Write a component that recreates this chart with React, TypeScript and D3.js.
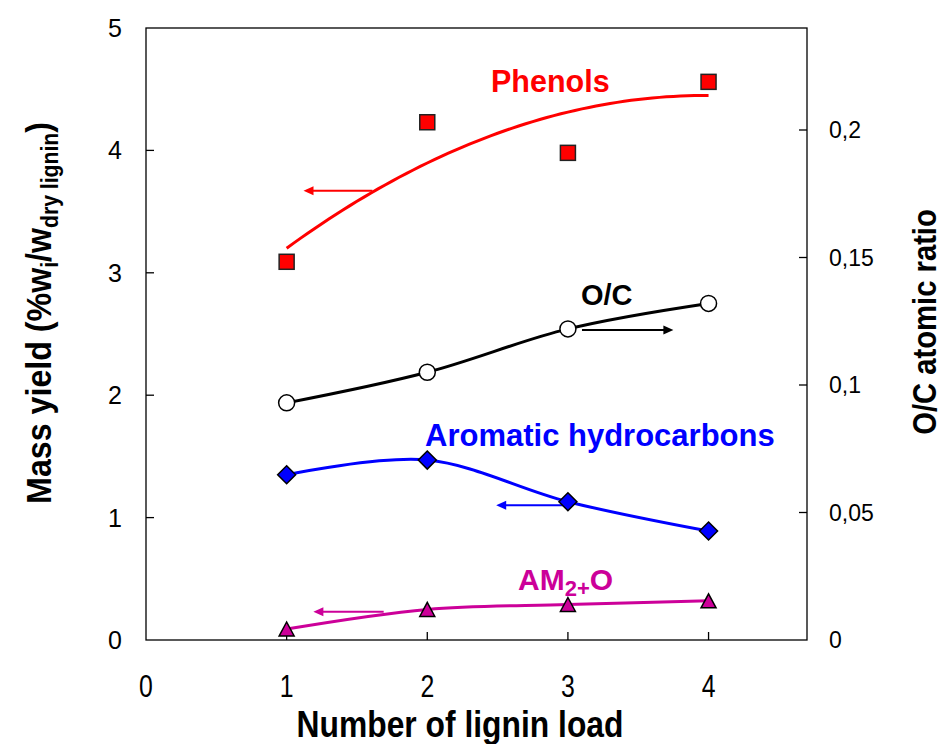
import React from 'react';
import * as d3 from 'd3';

const loads = [1, 2, 3, 4];
const phenols = [3.09, 4.23, 3.98, 4.56];
const aromatics = [1.35, 1.47, 1.13, 0.89];
const am2o = [0.09, 0.25, 0.29, 0.32];
const ocRatio = [0.093, 0.105, 0.122, 0.132];

const xTicks = [0, 1, 2, 3, 4];
const yLeftTicks = [0, 1, 2, 3, 4, 5];
const yRightTicks = [0, 0.05, 0.1, 0.15, 0.2];
const yRightLabels = ['0', '0,05', '0,1', '0,15', '0,2'];

const RED = '#FF0000';
const BLUE = '#0000FF';
const MAGENTA = '#CC0099';

const SANS = "'Liberation Sans', Arial, Helvetica, sans-serif";

const W = 943;
const H = 744;

// least-squares quadratic fit (Excel polynomial trendline, order 2)
function quadFit(xs: number[], ys: number[]) {
  const s = (f: (x: number, y: number) => number) => xs.reduce((acc, x, i) => acc + f(x, ys[i]), 0);
  const n = xs.length;
  const sx = s((x) => x), sx2 = s((x) => x * x), sx3 = s((x) => x ** 3), sx4 = s((x) => x ** 4);
  const sy = s((_, y) => y), sxy = s((x, y) => x * y), sx2y = s((x, y) => x * x * y);
  const A = [
    [n, sx, sx2, sy],
    [sx, sx2, sx3, sxy],
    [sx2, sx3, sx4, sx2y],
  ];
  for (let i = 0; i < 3; i++) {
    for (let j = i + 1; j < 3; j++) {
      const f = A[j][i] / A[i][i];
      for (let k = i; k < 4; k++) A[j][k] -= f * A[i][k];
    }
  }
  const c = [0, 0, 0];
  for (let i = 2; i >= 0; i--) {
    let v = A[i][3];
    for (let k = i + 1; k < 3; k++) v -= A[i][k] * c[k];
    c[i] = v / A[i][i];
  }
  return (x: number) => c[0] + c[1] * x + c[2] * x * x;
}

export default function App() {
  const x = d3.scaleLinear().domain([0, 4.7]).range([146, 807]);
  const yL = d3.scaleLinear().domain([0, 5]).range([640, 28]);
  const yR = d3.scaleLinear().domain([0, 0.24]).range([640, 28]);

  const smooth = (ys: number[], sc: d3.ScaleLinear<number, number>) =>
    d3.line<number>().x((_, i) => x(loads[i])).y((v) => sc(v)).curve(d3.curveCardinal.tension(0))(ys) || '';

  const fit = quadFit(loads, phenols);
  const fitPts = d3.range(0, 61).map((i) => 1 + (3 * i) / 60);
  const fitPath = d3.line<number>().x((v) => x(v)).y((v) => yL(fit(v)))(fitPts) || '';

  const arrow = (x1: number, x2: number, yv: number, sc: d3.ScaleLinear<number, number>, color: string, key: string) => {
    const px1 = x(x1), px2 = x(x2), py = sc(yv);
    const dir = Math.sign(px2 - px1);
    const len = 10, hw = 4.5;
    return (
      <g key={key}>
        <line x1={px1} y1={py} x2={px2 - dir * len * 0.6} y2={py} stroke={color} strokeWidth={2} />
        <path d={`M${px2},${py} L${px2 - dir * len},${py - hw} L${px2 - dir * len},${py + hw} Z`} fill={color} />
      </g>
    );
  };

  return (
    <svg width={W} height={H} style={{ position: 'absolute', left: 0, top: 0, background: '#fff' }}>
      <rect x={0} y={0} width={W} height={H} fill="#fff" />
      {/* plot frame */}
      <rect x={x(0)} y={yL(5)} width={x(4.7) - x(0)} height={yL(0) - yL(5)} fill="none" stroke="#000" strokeWidth={1.3} />

      {/* x ticks */}
      {xTicks.map((t) => (
        <g key={'xt' + t}>
          {t > 0 && <line x1={x(t)} x2={x(t)} y1={640} y2={632} stroke="#000" strokeWidth={1.3} />}
          <text transform={`translate(${x(t)},697) scale(0.8,1)`} textAnchor="middle" fontFamily={SANS} fontSize={31} fill="#000">{t}</text>
        </g>
      ))}
      {/* left ticks */}
      {yLeftTicks.map((t) => (
        <g key={'yl' + t}>
          {t > 0 && t < 5 && <line x1={146} x2={154} y1={yL(t)} y2={yL(t)} stroke="#000" strokeWidth={1.3} />}
          <text x={122} y={yL(t)} dy="0.36em" textAnchor="end" fontFamily={SANS} fontSize={25} fill="#000">{t}</text>
        </g>
      ))}
      {/* right ticks */}
      {yRightTicks.map((t, i) => (
        <g key={'yr' + t}>
          {t > 0 && <line x1={807} x2={799} y1={yR(t)} y2={yR(t)} stroke="#000" strokeWidth={1.3} />}
          <text x={829} y={yR(t)} dy="0.36em" textAnchor="start" fontFamily={SANS} fontSize={23} fill="#000">{yRightLabels[i]}</text>
        </g>
      ))}

      {/* axis titles */}
      <text transform="translate(460,737) scale(0.86,1)" textAnchor="middle" fontFamily={SANS} fontWeight="bold" fontSize={37} fill="#000">Number of lignin load</text>
      <text transform="translate(51,313) rotate(-90) scale(0.92,1)" textAnchor="middle" fontFamily={SANS} fontWeight="bold" fontSize={35} fill="#000">
        Mass yield (%w<tspan fontSize={23} dy={7}>i</tspan><tspan dy={-7}>/w</tspan><tspan fontSize={23} dy={7}>dry lignin</tspan><tspan dy={-7}>)</tspan>
      </text>
      <text transform="translate(936,322) rotate(-90) scale(0.86,1)" textAnchor="middle" fontFamily={SANS} fontWeight="bold" fontSize={34} fill="#000">O/C atomic ratio</text>

      {/* series lines */}
      <path d={fitPath} fill="none" stroke={RED} strokeWidth={3} />
      <path d={smooth(ocRatio, yR)} fill="none" stroke="#000" strokeWidth={3} />
      <path d={smooth(aromatics, yL)} fill="none" stroke={BLUE} strokeWidth={3} />
      <path d={smooth(am2o, yL)} fill="none" stroke={MAGENTA} strokeWidth={3} />

      {/* arrows */}
      {arrow(1.61, 1.12, 3.67, yL, RED, 'a1')}
      {arrow(3.1, 3.75, 0.1216, yR, '#000', 'a2')}
      {arrow(3.0, 2.49, 1.1, yL, BLUE, 'a3')}
      {arrow(1.69, 1.19, 0.23, yL, MAGENTA, 'a4')}

      {/* markers */}
      {phenols.map((v, i) => (
        <rect key={'p' + i} x={x(loads[i]) - 7.5} y={yL(v) - 7.5} width={15} height={15} fill={RED} stroke="#222" strokeWidth={1.5} />
      ))}
      {ocRatio.map((v, i) => (
        <circle key={'o' + i} cx={x(loads[i])} cy={yR(v)} r={8} fill="#fff" stroke="#000" strokeWidth={1.5} />
      ))}
      {aromatics.map((v, i) => {
        const cx = x(loads[i]), cy = yL(v), r = 9;
        return <path key={'d' + i} d={`M${cx},${cy - r}L${cx + r},${cy}L${cx},${cy + r}L${cx - r},${cy}Z`} fill={BLUE} stroke="#000" strokeWidth={1.5} />;
      })}
      {am2o.map((v, i) => {
        const cx = x(loads[i]), cy = yL(v);
        return <path key={'t' + i} d={`M${cx},${cy - 7}L${cx + 7.5},${cy + 7}L${cx - 7.5},${cy + 7}Z`} fill={MAGENTA} stroke="#000" strokeWidth={1.5} />;
      })}

      {/* series labels */}
      <text x={491} y={92} fontFamily={SANS} fontWeight="bold" fontSize={30.5} fill={RED}>Phenols</text>
      <text x={581} y={305} fontFamily={SANS} fontWeight="bold" fontSize={29} fill="#000">O/C</text>
      <text x={425} y={446} fontFamily={SANS} fontWeight="bold" fontSize={31} fill={BLUE}>Aromatic hydrocarbons</text>
      <text x={518} y={590} fontFamily={SANS} fontWeight="bold" fontSize={30} fill={MAGENTA}>
        AM<tspan fontSize={22} dy={6}>2+</tspan><tspan dy={-6}>O</tspan>
      </text>
    </svg>
  );
}
